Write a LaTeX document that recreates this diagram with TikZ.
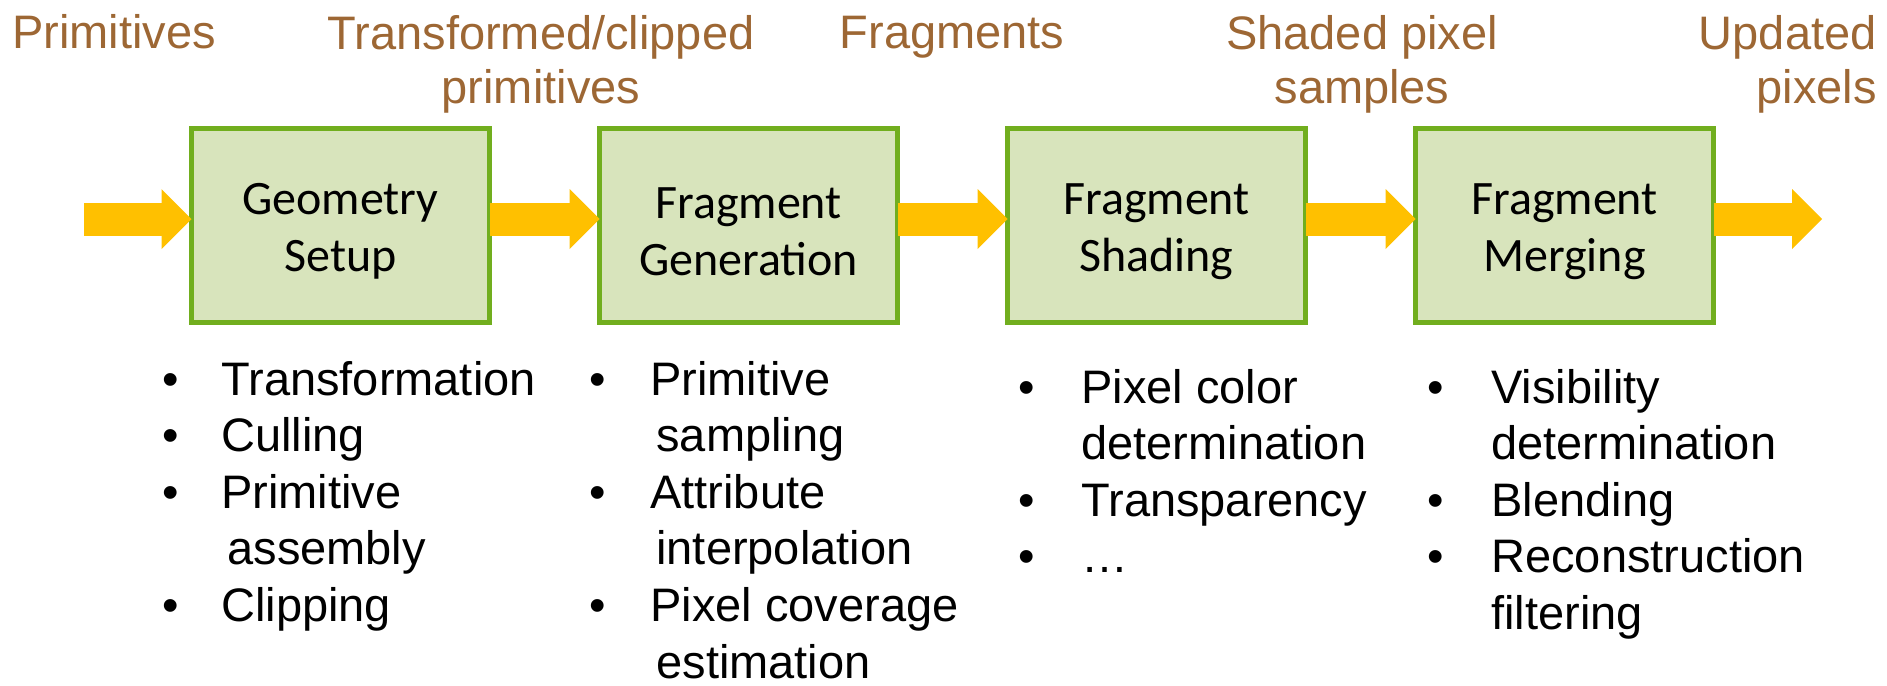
\documentclass[tikz,border=0pt]{standalone}
\usepackage{fontspec}
\setmainfont{Liberation Sans}
\newfontfamily\boxfont{Carlito}
\usetikzlibrary{arrows.meta}
\definecolor{boxfill}{RGB}{216,228,188}
\definecolor{boxline}{RGB}{113,174,30}
\definecolor{arrowc}{RGB}{255,192,0}
\definecolor{labelc}{RGB}{157,103,52}
\newcommand\bu[1]{\llap{\textbullet\hspace{#1}}}
\tikzset{
  stage/.style={draw=boxline, fill=boxfill, line width=2.5pt, minimum width=149pt,
    minimum height=97pt, inner sep=0pt, outer sep=0pt},
  stagetext/.style={align=center, inner sep=0pt, yshift=-3pt,
    font=\boxfont\fontsize{24}{28.3}\selectfont},
  flow/.style={draw=arrowc, line width=16.5pt,
    -{Triangle[length=15pt,width=30pt,line width=0pt]}},
  lbl/.style={text=labelc, align=center, inner sep=0pt,
    font=\fontsize{23.5}{27}\selectfont},
  blist/.style={align=left, anchor=base west, inner sep=0pt,
    font=\fontsize{23.5}{28.3}\selectfont},
}
\begin{document}
\begin{tikzpicture}[x=0.5pt,y=-0.5pt]
\useasboundingbox (0,0) rectangle (1887,686);
% boxes
\node[stage] (b1) at (340.5,225.5) {};
\node[stage] (b2) at (748.5,225.5) {};
\node[stage] (b3) at (1156.5,225.5) {};
\node[stage] (b4) at (1564.5,225.5) {};
\node[stagetext] (t1) at (b1.center) {Geometry\\Setup};
\node[stagetext] (t2) at (b2.center) {Fragment\\Generation};
\node[stagetext] (t3) at (b3.center) {Fragment\\Shading};
\node[stagetext] (t4) at (b4.center) {Fragment\\Merging};
% arrows
\coordinate (a0) at (84,219);
\coordinate (a5) at (1822,219);
\draw[flow] (a0) -- (b1.west |- a0);
\draw[flow] (b1.east |- a0) -- (b2.west |- a0);
\draw[flow] (b2.east |- a0) -- (b3.west |- a0);
\draw[flow] (b3.east |- a0) -- (b4.west |- a0);
\draw[flow] (b4.east |- a5) -- (a5);
% top labels (base anchor = baseline of the last line)
\node[lbl, anchor=base west] (l0) at (12,48) {Primitives};
\node[lbl, anchor=base] (l1) at (541,103) {Transformed/clipped\\primitives};
\node[lbl, anchor=base] (l2) at (952,48) {Fragments};
\node[lbl, anchor=base] (l3) at (1362,103) {Shaded pixel\\samples};
\node[lbl, anchor=base east, align=right] (l4) at (1877,103) {Updated\\pixels};
% bullet lists
\node[blist] (c1) at (221,621.4) {\bu{21pt}Transformation\\\bu{21pt}Culling\\\bu{21pt}Primitive\\\hspace{3pt}assembly\\\bu{21pt}Clipping};
\node[blist] (c2) at (650,678) {\bu{22pt}Primitive\\\hspace{3pt}sampling\\\bu{22pt}Attribute\\\hspace{3pt}interpolation\\\bu{22pt}Pixel coverage\\\hspace{3pt}estimation};
\node[blist] (c3) at (1081,572.8) {\bu{23pt}Pixel color\\determination\\\bu{23pt}Transparency\\\bu{23pt}\dots};
\node[blist] (c4) at (1491,629.4) {\bu{23.5pt}Visibility\\determination\\\bu{23.5pt}Blending\\\bu{23.5pt}Reconstruction\\filtering};
\end{tikzpicture}
\end{document}
